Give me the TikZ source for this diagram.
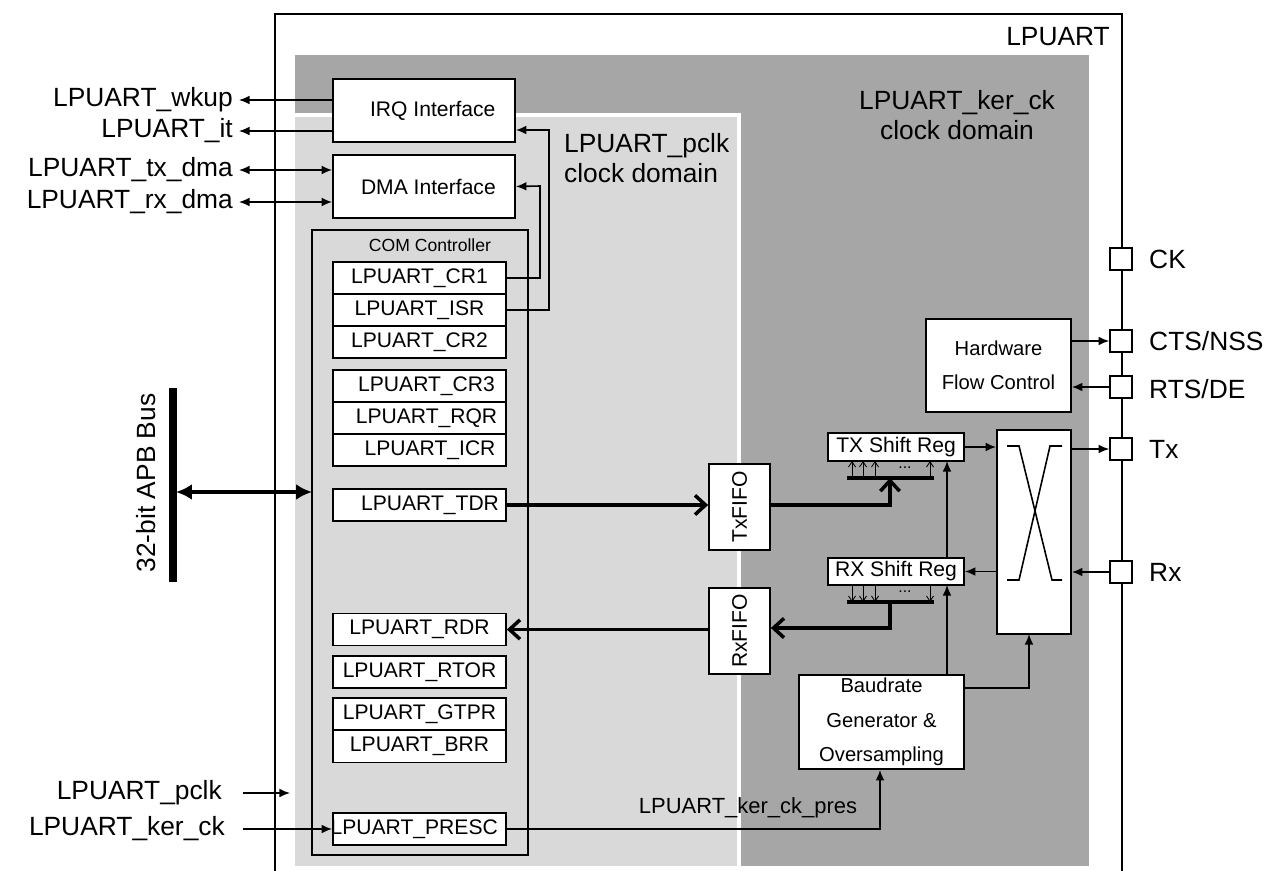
\documentclass[tikz,border=0pt]{standalone}
\usepackage{fontspec}
\setmainfont{Liberation Sans}
\usetikzlibrary{arrows.meta}
\begin{document}
\begin{tikzpicture}[x=0.02cm,y=-0.02cm,
  box/.style={draw,fill=white,line width=1pt,inner sep=0pt},
  reg/.style={box,minimum width=173*0.02cm,minimum height=32*0.02cm,font=\fontsize{12}{13}\selectfont},
  big/.style={font=\fontsize{15}{17}\selectfont},
  mid/.style={font=\fontsize{12}{13}\selectfont},
  ln/.style={line width=0.9pt},
  ar/.style={ln,-{Latex[length=6pt,width=5pt]}},
  thick2/.style={line width=2.2pt,-{Straight Barb[length=6pt,width=11pt,line width=2pt]}},
  pin/.style={draw,fill=white,line width=0.9pt,minimum size=22*0.02cm,inner sep=0pt}]
\useasboundingbox (0,0) rectangle (1273,871);
\fill[white] (0,0) rectangle (1273,871);
% outer
\draw[line width=1.5pt] (275,871) -- (275,14) -- (1122,14) -- (1122,871);
\node[big] at (1058,37) {LPUART};
\fill[gray!70] (295,55) rectangle (1089,866);
\fill[white] (291,113) rectangle (741,866);
\fill[gray!30] (295,117) rectangle (737,866);
\node[big,align=center] at (957,115) {LPUART\_ker\_ck\\clock domain};
\node[big,align=left,anchor=west] at (558,158) {LPUART\_pclk\\clock domain};
% interfaces
\node[box,minimum width=182*0.02cm,minimum height=63*0.02cm,mid] (irq) at (424,110.5) {\hspace{10pt}IRQ Interface};
\node[box,minimum width=182*0.02cm,minimum height=63*0.02cm,mid] (dma) at (424,186.5) {\hspace{5pt}DMA Interface};
\draw[ln] (312,230) rectangle (528,855);
\node[font=\fontsize{10}{11}\selectfont] (com) at (430,245) {COM Controller};
\node[reg] (cr1) at (419.5,278) {LPUART\_CR1};
\node[reg] (isr) at (419.5,310) {LPUART\_ISR};
\node[reg] (cr2) at (419.5,342) {LPUART\_CR2};
\node[reg] (cr3) at (419.5,386) {\hspace{8pt}LPUART\_CR3};
\node[reg] (rqr) at (419.5,418) {\hspace{8pt}LPUART\_RQR};
\node[reg] (icr) at (419.5,450) {\hspace{12pt}LPUART\_ICR};
\node[reg] (tdr) at (419.5,505) {\hspace{12pt}LPUART\_TDR};
\node[reg] (rdr) at (419.5,629.5) {LPUART\_RDR};
\node[reg] (rtor) at (419.5,672) {LPUART\_RTOR};
\node[reg] (gtpr) at (419.5,714) {LPUART\_GTPR};
\node[reg] (brr) at (419.5,746.5) {LPUART\_BRR};
\node[reg] (presc) at (419.5,829) {\hspace{-6pt}LPUART\_PRESC};
\draw[ar] (isr.east) -- (549,310) -- (549,130) -- (irq.east |- 0,130);
\draw[ar] (cr1.east) -- (540,278) -- (540,186) -- (dma.east);
% left signals
\node[big,anchor=east] (wk) at (239,100) {LPUART\_wkup};
\node[big,anchor=east] (it) at (239,131) {LPUART\_it};
\node[big,anchor=east] (tx) at (239,170) {LPUART\_tx\_dma};
\node[big,anchor=east] (rx) at (239,202) {LPUART\_rx\_dma};
\node[big,anchor=east] (pc) at (228,793) {LPUART\_pclk};
\node[big,anchor=east] (kc) at (231,829) {LPUART\_ker\_ck};
\draw[ar] (irq.west |- 0,100) -- (wk.east);
\draw[ar] (irq.west |- 0,131) -- (it.east);
\draw[ln,{Latex[length=6pt,width=5pt]}-{Latex[length=6pt,width=5pt]}] (tx.east) -- (dma.west |- 0,170);
\draw[ln,{Latex[length=6pt,width=5pt]}-{Latex[length=6pt,width=5pt]}] (rx.east) -- (dma.west |- 0,202);
\coordinate (pce) at (290,793);
\draw[ar] (243,793) -- (pce);
\draw[ar] (243,829) -- (presc.west);
% APB bus
\coordinate (bt) at (173,388); \coordinate (bb) at (173,582);
\draw[line width=4pt] (bt) -- (bb);
\node[big,rotate=90] at (146,483) {32-bit APB Bus};
\coordinate (bm) at (176,492);
\draw[line width=2.5pt,{Latex[length=9pt,width=9pt]}-{Latex[length=9pt,width=9pt]}] (bm) -- (312,492);
% FIFOs
\node[box,minimum width=61*0.02cm,minimum height=86*0.02cm] (txf) at (739.5,507) {};
\node[rotate=90,mid] at (txf) {TxFIFO};
\node[box,minimum width=61*0.02cm,minimum height=86*0.02cm] (rxf) at (739.5,631) {};
\node[rotate=90,mid] at (rxf) {RxFIFO};
\draw[thick2] (tdr.east) -- (txf.west |- tdr.east);
\node[box,minimum width=136*0.02cm,minimum height=28*0.02cm,mid] (txs) at (896,447) {TX Shift Reg};
\node[box,minimum width=136*0.02cm,minimum height=27*0.02cm,mid] (rxs) at (896,571.5) {RX Shift Reg};
\coordinate (tb) at (890,478);
\draw[line width=2pt] (847,478) -- (934,478);
\foreach \x in {852,863,875,930} \draw[line width=0.5pt,-{Straight Barb[length=3pt,width=4pt]}] (\x,478) -- (\x,461);
\node[font=\fontsize{9}{9}\selectfont,inner sep=0pt] at (905,468) {...};
\draw[thick2] (txf.east |- 0,505) -- (890,505) -- (tb);
\coordinate (rb) at (890,602);
\draw[line width=2pt] (847,602) -- (934,602);
\foreach \x in {852,863,875,930} \draw[line width=0.5pt,-{Straight Barb[length=3pt,width=4pt]}] (\x,585) -- (\x,602);
\node[font=\fontsize{9}{9}\selectfont,inner sep=0pt] at (905,592) {...};
\draw[thick2] (rb) -- (890,628) -- (rxf.east |- 0,628);
\draw[thick2] (rxf.west |- 0,629.5) -- (rdr.east);
% mux
\node[box,minimum width=74*0.02cm,minimum height=204*0.02cm] (mux) at (1034,532) {};
\draw[ln] (1007,446) -- (1019,446) -- (1052,580) -- (1062,580);
\draw[ln] (1062,446) -- (1050,446) -- (1019,580) -- (1007,580);
% pins
\node[pin] (ck) at (1121,259) {};
\node[pin] (cts) at (1121,341) {};
\node[pin] (rts) at (1121,387) {};
\node[pin] (ptx) at (1121,449) {};
\node[pin] (prx) at (1121,572) {};
\node[big,anchor=west] at (1143,259) {CK};
\node[big,anchor=west] at (1143,341) {CTS/NSS};
\node[big,anchor=west] at (1143,389) {RTS/DE};
\node[big,anchor=west] at (1143,449) {Tx};
\node[big,anchor=west] at (1143,572) {Rx};
\node[box,minimum width=145*0.02cm,minimum height=93*0.02cm,align=center,font=\fontsize{11.5}{19.5}\selectfont] (hfc) at (998.5,365.5) {Hardware\\Flow Control};
\draw[ar] (hfc.east |- cts) -- (cts.west);
\draw[ar] (rts.west) -- (hfc.east |- rts);
\draw[ar] (txs.east) -- (mux.west |- txs.east);
\draw[ar] (mux.east |- ptx) -- (ptx.west);
\draw[ar] (prx.west) -- (mux.east |- prx);
\draw[ar] (mux.west |- rxs.east) -- (rxs.east);
% baudrate
\node[box,minimum width=165*0.02cm,minimum height=94*0.02cm,align=center,font=\fontsize{11.5}{19.5}\selectfont] (baud) at (881.5,722) {Baudrate\\Generator \&\\Oversampling};
\draw[ar] (947,675) -- (947,585);
\draw[ar] (947,558) -- (947,461);
\draw[ar] (baud.east |- 0,688) -- (1029,688) -- (1029,634);
\draw[ar] (presc.east) -- (880,829) -- (baud.south -| 880,0);
\node[font=\fontsize{12.5}{13}\selectfont] at (748,808) {LPUART\_ker\_ck\_pres};
\end{tikzpicture}
\end{document}
